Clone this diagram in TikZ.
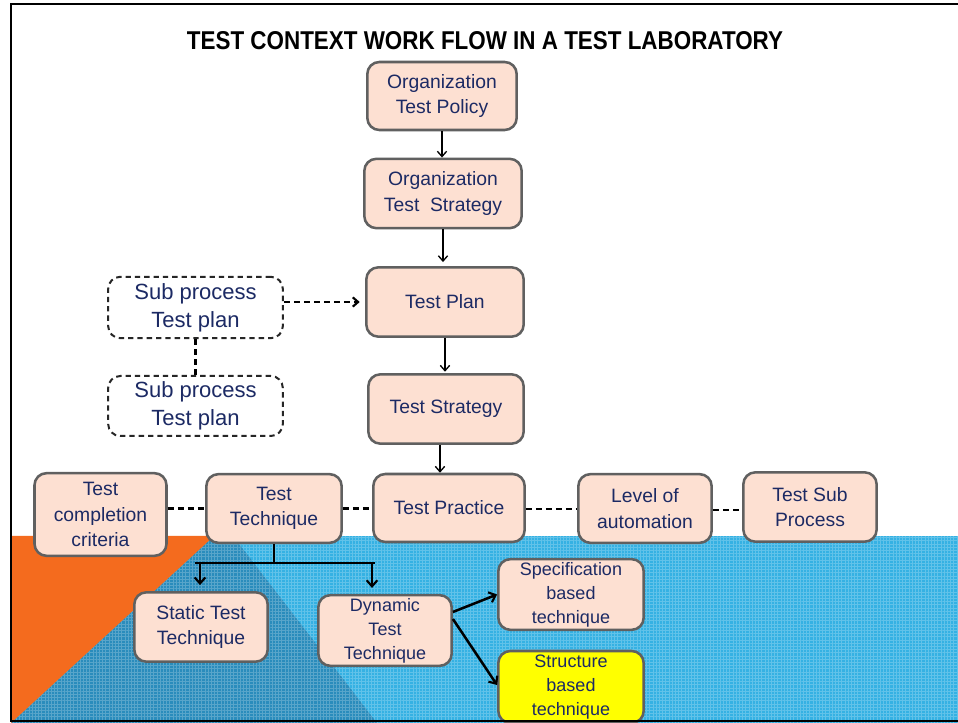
\documentclass[tikz,border=0pt]{standalone}
\usepackage{fontspec}
\setmainfont{Liberation Sans}
\usetikzlibrary{arrows.meta,patterns.meta}
\definecolor{boxfill}{HTML}{FDE0D2}
\definecolor{boxline}{HTML}{606060}
\definecolor{navy}{HTML}{1C2A64}
\definecolor{orng}{HTML}{F46B1E}
\definecolor{deepblue}{HTML}{2A8CBC}
\definecolor{skyblue}{HTML}{35B1E3}
\definecolor{hilite}{HTML}{FFFF00}
\begin{document}
\begin{tikzpicture}[x=0.75pt,y=-0.75pt,
  flowbox/.style={draw=boxline, fill=boxfill, line width=1.9pt, rounded corners=9pt,
    text=navy, align=center, inner sep=0pt},
  mainfont/.style={font=\fontsize{14.5pt}{19pt}\selectfont},
  subfont/.style={font=\fontsize{16.5pt}{21pt}\selectfont},
  lowfont/.style={font=\fontsize{13.5pt}{18pt}\selectfont},
  dashbox/.style={draw=black!85, line width=1.5pt, dash pattern=on 4pt off 3pt,
    rounded corners=9pt, text=navy, align=center, inner sep=0pt, subfont},
  thinarrow/.style={draw=black, line width=1pt, -{Straight Barb[length=4pt,width=7pt]}},
  thickarrow/.style={draw=black, line width=1.9pt, -{Straight Barb[length=4.5pt,width=8pt,line width=1.6pt]}},
  dashline/.style={draw=black, line width=1.6pt, dash pattern=on 4.5pt off 3pt},
  dasharrow/.style={dashline, -{Straight Barb[length=4pt,width=7pt]}},
  treeline/.style={draw=black, line width=1.9pt},
  texture/.style={pattern={Hatch[angle=0,distance=2.4pt,line width=0.35pt]}, pattern color=white, opacity=0.22}
]
\useasboundingbox (0,0) rectangle (958,723);
\clip (0,0) rectangle (958,723);

% background bands
\fill[white] (0,0) rectangle (958,723);
\fill[skyblue] (11,536) rectangle (958,723);
\fill[deepblue] (214,536) -- (233,536) -- (377,723) -- (11,723) -- cycle;
\fill[texture] (214,536) -- (958,536) -- (958,723) -- (11,723) -- cycle;
\fill[orng] (11,536) -- (214,536) -- (11,723) -- cycle;

% title
\node[anchor=base, inner sep=0pt] (title) at (485,50)
  {\resizebox{447pt}{13.5pt}{\bfseries TEST CONTEXT WORK FLOW IN A TEST LABORATORY}};

% main column
\node[flowbox, mainfont, minimum width=112pt, minimum height=51pt] (pol) at (442,96)
  {Organization\\Test Policy};
\node[flowbox, mainfont, minimum width=118pt, minimum height=52pt] (ostr) at (443,193.5)
  {Organization\\Test\ \ Strategy};
\node[flowbox, mainfont, minimum width=118pt, minimum height=52pt] (plan) at (445,302)
  {Test Plan};
\node[flowbox, mainfont, minimum width=116.5pt, minimum height=52pt] (strat) at (446,409)
  {Test Strategy};
\node[flowbox, mainfont, minimum width=113.5pt, minimum height=51pt] (prac) at (449,508)
  {Test Practice};

% row of practice facets
\node[flowbox, mainfont, minimum width=99pt, minimum height=62pt] (compl) at (100.5,514.5)
  {Test\\completion\\criteria};
\node[flowbox, mainfont, minimum width=101.5pt, minimum height=51.5pt] (tech) at (274,508.5)
  {Test\\Technique};
\node[flowbox, mainfont, minimum width=100pt, minimum height=51.5pt] (lvl) at (645,508.5)
  {Level of\\automation};
\node[flowbox, mainfont, minimum width=100pt, minimum height=52pt] (subp) at (810,507)
  {Test Sub\\Process};

% sub process plans
\node[dashbox, minimum width=131pt, minimum height=46pt] (sub1) at (195.5,307.5)
  {Sub process\\Test plan};
\node[dashbox, minimum width=131pt, minimum height=45pt] (sub2) at (195.5,406)
  {Sub process\\Test plan};

% technique tree
\node[flowbox, mainfont, minimum width=100pt, minimum height=52pt] (stat) at (201,627)
  {Static Test\\Technique};
\node[flowbox, lowfont, minimum width=100pt, minimum height=53pt] (dyn) at (385,630.5)
  {Dynamic\\Test\\Technique};
\node[flowbox, lowfont, minimum width=109pt, minimum height=53pt] (spec) at (571,594.5)
  {Specification\\based\\technique};
\node[flowbox, lowfont, fill=hilite, minimum width=109pt, minimum height=54pt] (struct) at (571,687)
  {Structure\\based\\technique};

% vertical flow
\draw[thinarrow] (pol.south) -- (pol.south |- ostr.north);
\draw[thinarrow] (ostr.south) -- ([yshift=3pt]ostr.south |- plan.north);
\draw[thinarrow] (plan.south) -- ([yshift=1pt]plan.south |- strat.north);
\draw[thinarrow] ([xshift=-4.5pt]strat.south) -- ([xshift=-4.5pt]strat.south |- prac.north);

% sub process links
\draw[dasharrow] (sub1.east |- plan.west) -- ([xshift=-4pt]plan.west);
\draw[dashline] (sub1.south) -- (sub2.north);

% dashed row links
\draw[dashline] (compl.east |- tech.west) -- (tech.west);
\draw[dashline] (tech.east) -- (tech.east -| prac.west);
\draw[dashline] ([yshift=-1pt]prac.east) -- ([yshift=-1pt]prac.east -| lvl.west);
\draw[dashline] ([yshift=-1pt]lvl.east) -- ([yshift=-1pt]lvl.east -| subp.west);

% technique split
\coordinate (forkL) at (195,563);
\coordinate (forkR) at (375,563);
\draw[treeline] (tech.south) -- (tech.south |- forkL);
\draw[treeline] (forkL) -- (forkR);
\draw[thickarrow] ([xshift=-0.75pt]stat.north |- forkL) -- ([xshift=-0.75pt,yshift=4.5pt]stat.north);
\draw[thickarrow] ([xshift=-9.75pt]dyn.north |- forkL) -- ([xshift=-9.75pt,yshift=4.5pt]dyn.north);
\draw[thickarrow] ([yshift=13.9pt]dyn.east) -- (spec.west);
\draw[thickarrow] ([yshift=8.6pt]dyn.east) -- ([yshift=1.5pt]struct.west);

% slide frame
\draw[black, line width=1.6pt] (958,4) -- (11,4) -- (11,721) -- (958,721);
\end{tikzpicture}
\end{document}
